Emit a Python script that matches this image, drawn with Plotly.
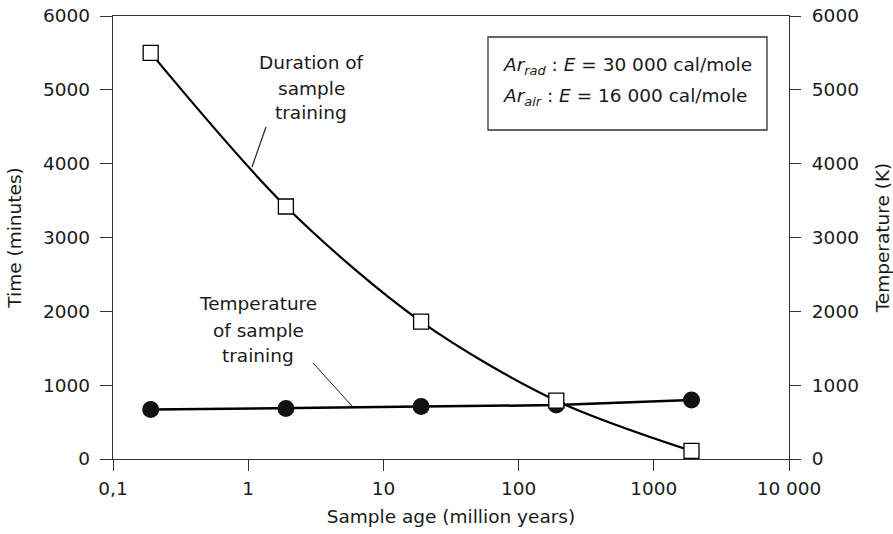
import plotly.graph_objects as go

# Data
sample_age = [0.19, 1.9, 19, 190, 1900]           # million years
duration_min = [5500, 3420, 1860, 790, 110]        # minutes
temperature_k = [670, 685, 710, 730, 800]          # K
x_tickvals = [0.1, 1, 10, 100, 1000, 10000]
x_ticktext = ["0,1", "1", "10", "100", "1000", "10 000"]
y_ticks = [0, 1000, 2000, 3000, 4000, 5000, 6000]

FONT = "DejaVu Sans, Liberation Sans, Arial, sans-serif"
FS = 18.5
AX = "#333333"
TXT = "#1a1a1a"

fig = go.Figure()

fig.add_trace(go.Scatter(
    x=sample_age, y=temperature_k, mode="lines+markers",
    line=dict(color="black", width=2.5),
    marker=dict(symbol="circle", size=17, color="#111111", line=dict(color="#111111", width=0)),
    yaxis="y", showlegend=False, name="Temperature of sample training"))

fig.add_trace(go.Scatter(
    x=sample_age, y=duration_min, mode="lines+markers",
    line=dict(color="black", width=2.2, shape="spline", smoothing=0.9),
    marker=dict(symbol="square", size=15, color="white", line=dict(color="black", width=1.3)),
    yaxis="y", showlegend=False, name="Duration of sample training"))

# the right-hand temperature axis (same scale), carried by an invisible trace
fig.add_trace(go.Scatter(
    x=sample_age, y=temperature_k, mode="lines", line=dict(width=0, color="rgba(0,0,0,0)"),
    yaxis="y2", showlegend=False, hoverinfo="skip", name="Temperature (K)"))

L, R, T, B = 113, 104, 16, 75
W, H = 893, 534
pw, ph = W - L - R, H - T - B

def px(x):
    return (x - L) / pw

def py(y):
    return (H - B - y) / ph

tf = dict(family=FONT, size=FS, color=TXT)

fig.update_layout(
    width=W, height=H,
    margin=dict(l=L, r=R, t=T, b=B, pad=0, autoexpand=False),
    paper_bgcolor="white", plot_bgcolor="white",
    font=tf,
    xaxis=dict(type="log", range=[-1, 4], tickvals=x_tickvals, ticktext=x_ticktext,
               ticks="outside", ticklen=11, tickwidth=1.3, tickcolor=AX,
               showline=True, linecolor=AX, linewidth=1.3, mirror=True, automargin=False,
               showgrid=False, zeroline=False, tickfont=tf, ticklabelstandoff=2,
               title=dict(text="Sample age (million years)", standoff=11, font=tf)),
    yaxis=dict(range=[0, 6000], tickvals=y_ticks, ticks="outside", ticklen=12,
               tickwidth=1.3, tickcolor=AX, showline=True, linecolor=AX, linewidth=1.3,
               showgrid=False, zeroline=False, tickfont=tf, ticklabelstandoff=6, automargin=False,
               title=dict(text="Time (minutes)", standoff=16, font=tf)),
    yaxis2=dict(range=[0, 6000], tickvals=y_ticks, ticks="outside", ticklen=11,
                tickwidth=1.3, tickcolor=AX, showline=True, linecolor=AX, linewidth=1.3,
                showgrid=False, zeroline=False, overlaying="y", side="right", anchor="x",
                tickfont=tf, ticklabelstandoff=7, automargin=False,
                title=dict(text="Temperature (K)", standoff=21, font=tf)),
)

# Box with activation energies
fig.add_shape(type="rect", xref="paper", yref="paper",
              x0=px(488), x1=px(767), y0=py(130), y1=py(37),
              line=dict(color=AX, width=1.3), fillcolor="white")
fig.add_annotation(xref="paper", yref="paper", x=px(501), y=py(66), xanchor="left", yanchor="middle",
                   text="<i>Ar</i><sub><i>rad</i></sub> : <i>E</i> = 30 000 cal/mole", showarrow=False)
fig.add_annotation(xref="paper", yref="paper", x=px(501), y=py(97), xanchor="left", yanchor="middle",
                   text="<i>Ar</i><sub><i>air</i></sub> : <i>E</i> = 16 000 cal/mole", showarrow=False)

# Curve labels
for txt, yy in [("Duration of", 63), ("sample", 88), ("training", 113)]:
    fig.add_annotation(xref="paper", yref="paper", x=px(311), y=py(yy), xanchor="center",
                       yanchor="middle", text=txt, showarrow=False)
for txt, yy in [("Temperature", 303), ("of sample", 330), ("training", 355)]:
    fig.add_annotation(xref="paper", yref="paper", x=px(258), y=py(yy), xanchor="center",
                       yanchor="middle", text=txt, showarrow=False)

# Leader lines
fig.add_shape(type="line", xref="paper", yref="paper", x0=px(266), y0=py(127), x1=px(252), y1=py(167),
              line=dict(color="#222222", width=1.2))
fig.add_shape(type="line", xref="paper", yref="paper", x0=px(313), y0=py(363), x1=px(352), y1=py(406),
              line=dict(color="#222222", width=1.0))

fig.write_html("out.html")
